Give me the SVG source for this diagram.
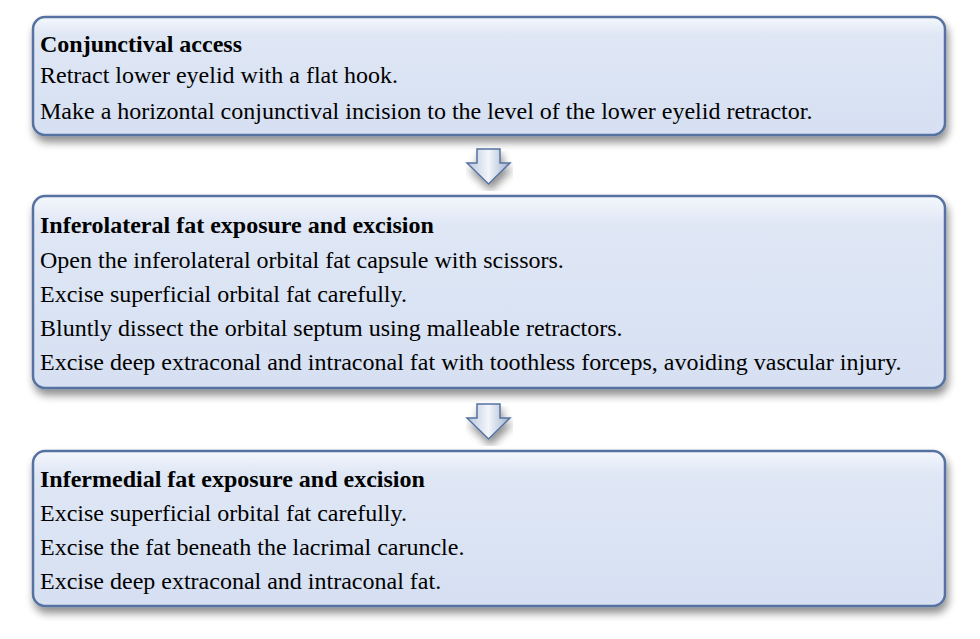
<svg xmlns="http://www.w3.org/2000/svg" width="980" height="639" viewBox="0 0 980 639">
<defs>
<linearGradient id="bg" x1="0" y1="0" x2="0" y2="1"><stop offset="0" stop-color="#f4f7fc"/><stop offset="0.15" stop-color="#dfe7f5"/><stop offset="1" stop-color="#d6e0f2"/></linearGradient>
<linearGradient id="ag" x1="0" y1="0" x2="1" y2="0"><stop offset="0" stop-color="#b7c5dc"/><stop offset="0.5" stop-color="#f3f6fb"/><stop offset="1" stop-color="#9fb0cc"/></linearGradient>
<filter id="sh" x="-5%" y="-10%" width="110%" height="130%"><feGaussianBlur in="SourceAlpha" stdDeviation="4"/><feOffset dx="2" dy="6"/><feComponentTransfer><feFuncA type="linear" slope="0.45"/></feComponentTransfer><feMerge><feMergeNode/><feMergeNode in="SourceGraphic"/></feMerge></filter>
</defs>
<style>
.box{fill:url(#bg);stroke:#5572a0;stroke-width:2.5;filter:url(#sh)}
text{font-family:"Liberation Serif","Times New Roman",serif;font-size:24px;fill:#000}
.t{font-weight:bold}
.arr{fill:url(#ag);stroke:#5572a0;stroke-width:1.5;filter:url(#sh)}
</style>
<rect width="980" height="639" fill="#fff"/>
<g id="n1"><rect class="box" x="33" y="17" width="912" height="118" rx="12"/>
<text class="t" x="40" y="52">Conjunctival access</text>
<text x="40" y="83">Retract lower eyelid with a flat hook.</text>
<text x="40" y="119">Make a horizontal conjunctival incision to the level of the lower eyelid retractor.</text></g>
<g id="n2"><rect class="box" x="33" y="196" width="912" height="192" rx="12"/>
<text class="t" x="40" y="233">Inferolateral fat exposure and excision</text>
<text x="40" y="268">Open the inferolateral orbital fat capsule with scissors.</text>
<text x="40" y="302">Excise superficial orbital fat carefully.</text>
<text x="40" y="336">Bluntly dissect the orbital septum using malleable retractors.</text>
<text x="40" y="370">Excise deep extraconal and intraconal fat with toothless forceps, avoiding vascular injury.</text></g>
<g id="n3"><rect class="box" x="33" y="451" width="912" height="155" rx="12"/>
<text class="t" x="40" y="487">Infermedial fat exposure and excision</text>
<text x="40" y="521">Excise superficial orbital fat carefully.</text>
<text x="40" y="555">Excise the fat beneath the lacrimal caruncle.</text>
<text x="40" y="589">Excise deep extraconal and intraconal fat.</text></g>
<g id="connectors">
<path class="arr" d="M477,149 H500 V163 H510 L488.5,184 L467,163 H477 Z"/>
<path class="arr" d="M477,404 H500 V418 H510 L488.5,439 L467,418 H477 Z"/>
</g>
</svg>
